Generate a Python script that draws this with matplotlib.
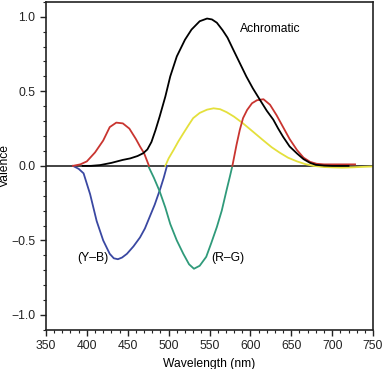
import numpy as np
import matplotlib
matplotlib.use("Agg")
import matplotlib.pyplot as plt
from matplotlib.ticker import MultipleLocator

plt.rcParams['font.family'] = ['Liberation Sans', 'DejaVu Sans']

# Achromatic (black)
achro_nm  = [395, 405, 416, 430, 444, 453, 462, 469, 474, 479, 484, 489, 496, 502, 510, 520, 528, 538, 547, 553, 559, 566, 572, 579, 587, 595, 603, 612, 620, 628, 634, 640, 648, 657, 665, 673, 680, 690, 700, 720]
achro_val = [0.0, 0.0, 0.005, 0.02, 0.04, 0.05, 0.066, 0.085, 0.11, 0.16, 0.24, 0.33, 0.465, 0.6, 0.734, 0.846, 0.914, 0.97, 0.988, 0.982, 0.96, 0.91, 0.86, 0.78, 0.69, 0.6, 0.52, 0.44, 0.37, 0.31, 0.25, 0.195, 0.13, 0.083, 0.045, 0.02, 0.007, 0.002, 0.0, 0.0]

# Red part of R-G (positive)
red1_nm  = [383, 392, 400, 410, 420, 428, 436, 444, 452, 460, 465, 470, 476]
red1_val = [0.0, 0.01, 0.03, 0.09, 0.17, 0.26, 0.29, 0.285, 0.25, 0.18, 0.13, 0.085, 0.0]
red2_nm  = [578, 583, 587, 591, 596, 602, 608, 616, 624, 632, 640, 648, 657, 665, 673, 681, 690, 700, 715, 728]
red2_val = [0.0, 0.14, 0.24, 0.32, 0.375, 0.42, 0.44, 0.447, 0.41, 0.34, 0.26, 0.18, 0.106, 0.055, 0.027, 0.014, 0.01, 0.01, 0.01, 0.01]

# Green part of R-G (negative)
green_nm  = [475, 482, 489, 496, 502, 510, 518, 525, 531, 538, 546, 552, 559, 565, 571, 575, 578]
green_val = [0.0, -0.08, -0.17, -0.28, -0.39, -0.5, -0.59, -0.66, -0.69, -0.67, -0.61, -0.52, -0.41, -0.3, -0.16, -0.07, 0.0]

# Yellow part of Y-B (positive)
yellow_nm  = [496, 500, 506, 512, 518, 524, 530, 538, 547, 555, 563, 571, 580, 591, 603, 616, 626, 636, 646, 657, 667, 677, 690, 700, 712, 725, 740, 750]
yellow_val = [0.0, 0.05, 0.106, 0.165, 0.218, 0.27, 0.32, 0.355, 0.377, 0.386, 0.38, 0.36, 0.33, 0.285, 0.23, 0.17, 0.125, 0.088, 0.055, 0.03, 0.012, 0.0, -0.008, -0.01, -0.012, -0.01, -0.006, -0.004]

# Blue part of Y-B (negative)
blue_nm  = [383, 390, 396, 404, 412, 420, 428, 433, 438, 443, 449, 457, 465, 471, 477, 483, 490, 494, 498]
blue_val = [0.0, -0.02, -0.05, -0.19, -0.37, -0.5, -0.59, -0.62, -0.626, -0.615, -0.59, -0.54, -0.48, -0.42, -0.34, -0.26, -0.15, -0.08, 0.0]

fig = plt.figure(figsize=(3.83, 3.69), dpi=100)
ax = fig.add_axes([0.120, 0.106, 0.854, 0.889])

ax.axhline(0, color='#222222', lw=1.2, zorder=1)

lw = 1.3
ax.plot(achro_nm, achro_val, color='black', lw=lw, zorder=3)
ax.plot(yellow_nm, yellow_val, color='#e4e03c', lw=lw, zorder=2)
ax.plot(blue_nm, blue_val, color='#3a48a2', lw=lw, zorder=2)
ax.plot(green_nm, green_val, color='#2f9a7a', lw=lw, zorder=2)
ax.plot(red1_nm, red1_val, color='#c93530', lw=lw, zorder=2)
ax.plot(red2_nm, red2_val, color='#c93530', lw=lw, zorder=2)

fs = 8.7
ax.text(587, 0.92, 'Achromatic', fontsize=fs, va='center', ha='left')
ax.text(407, -0.62, '(Y–B)', fontsize=fs, va='center', ha='center')
ax.text(573, -0.62, '(R–G)', fontsize=fs, va='center', ha='center')

ax.set_xlim(350, 750)
ax.set_ylim(-1.1, 1.1)
ax.set_xticks(np.arange(350, 751, 50))
ax.set_yticks([-1.0, -0.5, 0.0, 0.5, 1.0])
ax.set_yticklabels(['−1.0', '−0.5', '0.0', '0.5', '1.0'])
ax.xaxis.set_minor_locator(MultipleLocator(10))
ax.yaxis.set_minor_locator(MultipleLocator(0.1))
ax.tick_params(which='major', direction='out', length=4, width=1, labelsize=fs, colors='#222222')
ax.tick_params(which='minor', direction='out', length=2, width=0.8, colors='#222222')

for s in ax.spines.values():
    s.set_linewidth(1.2)
    s.set_color('#222222')

ax.set_xlabel('Wavelength (nm)', fontsize=fs, labelpad=4)
ax.set_ylabel('Valence', fontsize=fs)
ax.yaxis.set_label_coords(-0.108, 0.5)

fig.savefig('out.png', dpi=100)
